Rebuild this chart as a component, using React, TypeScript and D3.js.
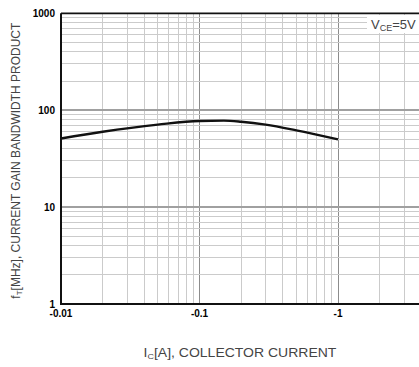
import * as d3 from "d3";
import { useEffect, useRef } from "react";

// collector current [A] and transition frequency fT [MHz]
const CURRENT = [0.01, 0.02, 0.05, 0.1, 0.15, 0.2, 0.3, 0.5, 1];
const FT = [51, 60, 71, 77.5, 78, 76, 71, 62, 50];

const X_TICKS = [0.01, 0.1, 1];
const X_TICK_LABELS = ["-0.01", "-0.1", "-1"];
const Y_TICKS = [1, 10, 100, 1000];
const Y_TICK_LABELS = ["1", "10", "100", "1000"];

const WIDTH = 419;
const HEIGHT = 367;
const FONT = "'Liberation Sans', Arial, sans-serif";

export default function App() {
  const ref = useRef<SVGSVGElement>(null);

  useEffect(() => {
    if (!ref.current) return;
    const svg = d3.select(ref.current);
    svg.selectAll("*").remove();

    const left = 61;
    const top = 13.3;
    const bottom = 304;
    const decade = 138.5;

    // x axis runs to 10 A, the right part is cut off by the frame
    const x = d3.scaleLog().domain([0.01, 10]).range([left, left + 3 * decade]);
    const y = d3.scaleLog().domain([1, 1000]).range([bottom, top]);

    const grid = svg.append("g");

    grid
      .selectAll("line.vx")
      .data(x.ticks())
      .join("line")
      .attr("x1", (d) => x(d))
      .attr("x2", (d) => x(d))
      .attr("y1", top)
      .attr("y2", bottom)
      .attr("stroke", (d) => (X_TICKS.includes(d) ? "#8c8c8c" : "#cbcbcb"))
      .attr("stroke-width", 1)
      .attr("shape-rendering", "crispEdges");

    grid
      .selectAll("line.hy")
      .data(y.ticks())
      .join("line")
      .attr("x1", left)
      .attr("x2", WIDTH)
      .attr("y1", (d) => y(d))
      .attr("y2", (d) => y(d))
      .attr("stroke", (d) => (Y_TICKS.includes(d) ? "#a0a0a0" : "#cbcbcb"))
      .attr("stroke-width", (d) => (Y_TICKS.includes(d) ? 1.6 : 1))
      .attr("shape-rendering", "crispEdges");

    // curve
    const line = d3
      .line<number>()
      .x((_, i) => x(CURRENT[i]))
      .y((d) => y(d))
      .curve(d3.curveMonotoneX);

    svg
      .append("path")
      .attr("d", line(FT) ?? "")
      .attr("fill", "none")
      .attr("stroke", "#111")
      .attr("stroke-width", 2.4);

    // frame: left, bottom, top
    svg
      .append("path")
      .attr("d", `M${left},${top}V${bottom}H${WIDTH}`)
      .attr("fill", "none")
      .attr("stroke", "#111")
      .attr("stroke-width", 2);
    svg
      .append("line")
      .attr("x1", left)
      .attr("x2", WIDTH)
      .attr("y1", top)
      .attr("y2", top)
      .attr("stroke", "#111")
      .attr("stroke-width", 1.8);

    // tick labels
    svg
      .append("g")
      .selectAll("text")
      .data(Y_TICKS)
      .join("text")
      .attr("x", left - 6)
      .attr("y", (d) => y(d))
      .attr("dy", "0.35em")
      .attr("text-anchor", "end")
      .attr("font-family", FONT)
      .attr("font-weight", "bold")
      .attr("font-size", 10)
      .text((_, i) => Y_TICK_LABELS[i]);

    svg
      .append("g")
      .selectAll("text")
      .data(X_TICKS)
      .join("text")
      .attr("x", (d) => x(d))
      .attr("y", bottom + 13)
      .attr("text-anchor", "middle")
      .attr("font-family", FONT)
      .attr("font-weight", "bold")
      .attr("font-size", 10)
      .text((_, i) => X_TICK_LABELS[i]);

    // condition label
    svg
      .append("rect")
      .attr("x", 367)
      .attr("y", 15)
      .attr("width", WIDTH - 367)
      .attr("height", 18)
      .attr("fill", "#fff");
    const vce = svg
      .append("text")
      .attr("x", 371)
      .attr("y", 29)
      .attr("font-family", FONT)
      .attr("font-size", 13)
      .attr("fill", "#444");
    vce.append("tspan").text("V");
    vce.append("tspan").attr("font-size", 9).attr("dy", 2).text("CE");
    vce.append("tspan").attr("dy", -2).text("=5V");

    // axis titles
    const xt = svg
      .append("text")
      .attr("transform", "translate(240,357) scale(1.12,1)")
      .attr("text-anchor", "middle")
      .attr("font-family", FONT)
      .attr("font-size", 12.5)
      .attr("fill", "#444");
    xt.append("tspan").text("I");
    xt.append("tspan").attr("font-size", 8).attr("dy", 2).text("C");
    xt.append("tspan").attr("dy", -2).text("[A], COLLECTOR CURRENT");

    const yt = svg
      .append("text")
      .attr("transform", `translate(20,${(top + bottom) / 2 + 2}) rotate(-90)`)
      .attr("text-anchor", "middle")
      .attr("font-family", FONT)
      .attr("font-size", 12)
      .attr("fill", "#444");
    yt.append("tspan").text("f");
    yt.append("tspan").attr("font-size", 8).attr("dy", 2).text("T");
    yt.append("tspan").attr("dy", -2).text("[MHz], CURRENT GAIN BANDWIDTH PRODUCT");
  }, []);

  return (
    <svg
      ref={ref}
      width={WIDTH}
      height={HEIGHT}
      style={{ position: "absolute", left: 0, top: 0, background: "#fff" }}
    />
  );
}
